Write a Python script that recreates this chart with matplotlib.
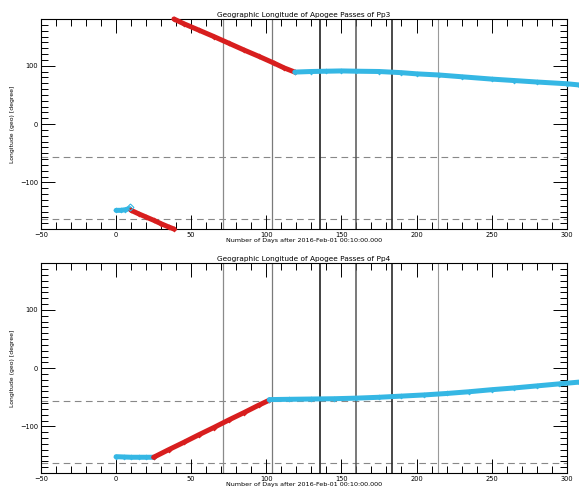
import numpy as np
import matplotlib
matplotlib.use('Agg')
import matplotlib.pyplot as plt
from matplotlib.ticker import MultipleLocator

# --- data ---
# Pp3
pp3_cyan1_x = [0, 3, 6, 9]
pp3_cyan1_y = [-148, -148, -147, -145]
pp3_red1_x = [10, 15, 20, 25, 30, 35, 38.5]
pp3_red1_y = [-148, -154, -159.5, -165, -171, -176.5, -180]
pp3_red2_x = [38.5, 45, 55, 65, 75, 85, 95, 105, 112, 119]
pp3_red2_y = [180, 172, 161, 150, 138.5, 127, 116, 104.5, 96, 89]
pp3_cyan2_x = [119, 130, 140, 150, 160, 175, 190, 200, 215, 230, 250, 265, 280, 300, 308]
pp3_cyan2_y = [89, 90, 90.5, 91, 90.5, 90, 88, 86, 84, 81, 77, 74.5, 72, 69, 67]

# Pp4
pp4_cyan1_x = [0, 5, 10, 15, 20, 25]
pp4_cyan1_y = [-152, -152.5, -153, -153, -153, -153]
pp4_red_x = [25, 35, 45, 55, 65, 75, 85, 95, 102]
pp4_red_y = [-153, -140, -127.5, -114.5, -102, -89, -76.5, -63.5, -55]
pp4_cyan2_x = [102, 115, 130, 145, 160, 175, 190, 205, 220, 235, 250, 265, 280, 295, 308]
pp4_cyan2_y = [-54, -53.5, -53, -52.5, -51.5, -50, -48, -46, -43.5, -40.5, -37, -34, -30.5, -27, -24]

vlines_x = [71, 103.5, 135.7, 160, 183.7, 214.2]
vlines_col = ['#8a8a8a', '#7a7a7a', '#333333', '#555555', '#2a2a2a', '#9a9a9a']
vlines_lw = [0.9, 0.9, 1.3, 1.1, 1.2, 0.8]
hlines_y = [-56.7, -163.7]

CYAN = '#35b7e4'
RED = '#d81e1e'

fig = plt.figure(figsize=(5.79, 4.91), dpi=100)
ax1 = fig.add_axes([0.0708, 0.5336, 0.908, 0.4277])
ax2 = fig.add_axes([0.0708, 0.0367, 0.908, 0.4270])


def draw_series(ax, x, y, col):
    ax.plot(x, y, '-', color=col, lw=3.6, solid_capstyle='round', clip_on=False, zorder=3)
    ax.plot(x, y, 'D', color=col, ms=3, mew=0, clip_on=False, zorder=3)


def style(ax, name):
    ax.set_xlim(-50, 300)
    ax.set_ylim(-180, 180)
    ax.xaxis.set_major_locator(MultipleLocator(50))
    ax.xaxis.set_minor_locator(MultipleLocator(10))
    ax.yaxis.set_major_locator(MultipleLocator(100))
    ax.yaxis.set_minor_locator(MultipleLocator(10))
    ax.tick_params(which='both', direction='in', top=True, right=True,
                   labelsize=4.8, width=0.7, pad=2)
    ax.tick_params(which='major', length=10)
    ax.tick_params(which='minor', length=5)
    for s in ax.spines.values():
        s.set_linewidth(0.8)
    ax.set_title('Geographic Longitude of Apogee Passes of ' + name, fontsize=5.3, pad=1.5)
    ax.set_xlabel('Number of Days after 2016-Feb-01 00:10:00.000', fontsize=4.6, labelpad=0.5)
    ax.set_ylabel('Longitude (geo) [degree]', fontsize=4.4, labelpad=4)
    for x, c, lw in zip(vlines_x, vlines_col, vlines_lw):
        ax.axvline(x, color=c, lw=lw, zorder=2)
    for y in hlines_y:
        ax.axhline(y, color='#888888', lw=0.8, dashes=(6, 4), zorder=1)


style(ax1, 'Pp3')
draw_series(ax1, pp3_cyan1_x, pp3_cyan1_y, CYAN)
ax1.plot([9.5], [-143], 'D', ms=3.5, mfc='none', mec=CYAN, mew=0.8, zorder=4)
draw_series(ax1, pp3_red1_x, pp3_red1_y, RED)
draw_series(ax1, pp3_red2_x, pp3_red2_y, RED)
draw_series(ax1, pp3_cyan2_x, pp3_cyan2_y, CYAN)

style(ax2, 'Pp4')
draw_series(ax2, pp4_cyan1_x, pp4_cyan1_y, CYAN)
draw_series(ax2, pp4_red_x, pp4_red_y, RED)
draw_series(ax2, pp4_cyan2_x, pp4_cyan2_y, CYAN)

fig.savefig('out.png', dpi=100)
